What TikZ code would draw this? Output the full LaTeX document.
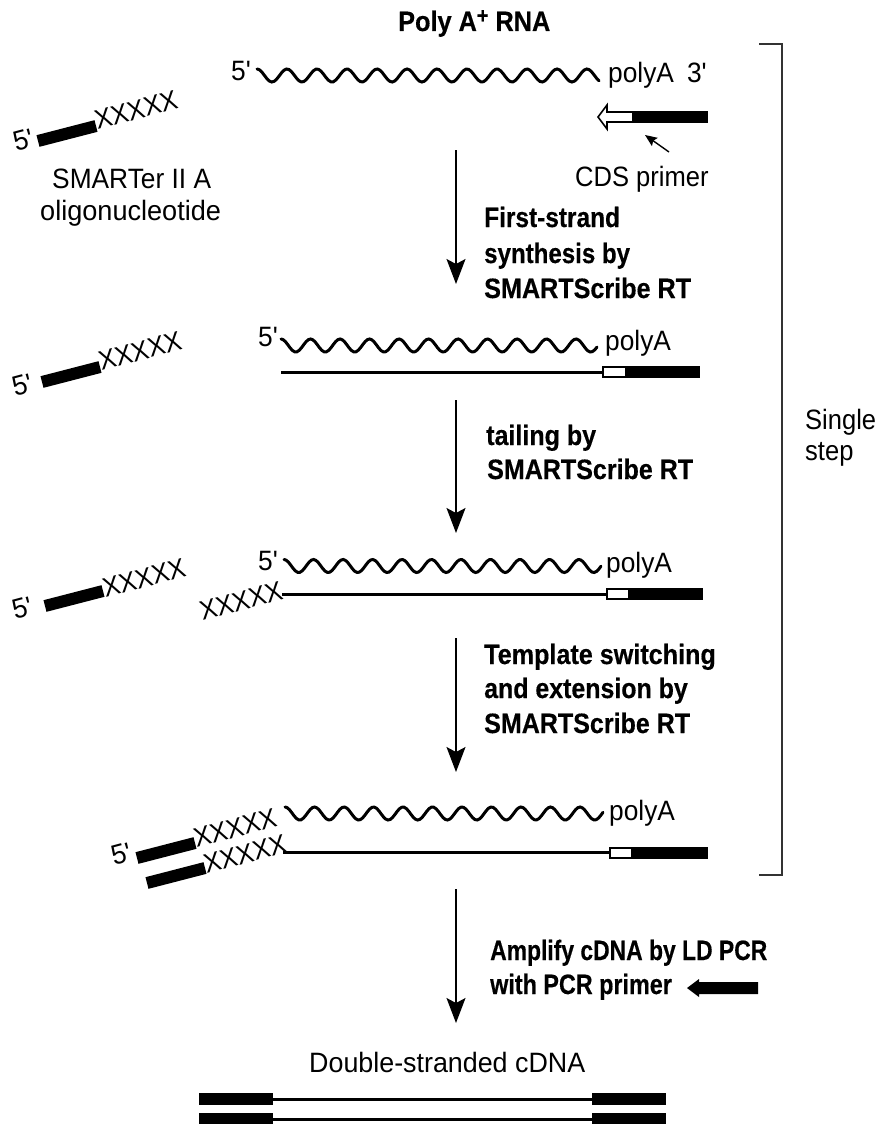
\documentclass[tikz,border=0pt]{standalone}
\usepackage{fontspec}
\setmainfont{Liberation Sans}
\newfontfamily\reg[FakeStretch=0.94]{Liberation Sans}
\newfontfamily\bld[FakeStretch=0.86,FakeBold=0.4]{Liberation Sans Bold}
\usetikzlibrary{arrows.meta}
\newcommand{\wavy}[5]{%
  \draw[wave] plot[domain=0:#4,samples=140,smooth] ({#2+\x},{#3-6.5*cos((360/#5)*\x)});
  \coordinate (#1) at (#2,#3);}
\newcommand{\oligo}[7]{%
  \coordinate (#1a) at (#2,#3);
  \coordinate (#1b) at (#4,#5);
  \draw[thickbar] (#1a) -- (#1b);
  \node[xtxt] (#1x) at (#6,#7) {XXXXX};}
\newcommand{\sx}[2]{\scalebox{#1}[1]{#2}}
\tikzset{
  x=1pt,y=-1pt,
  lab/.style={anchor=base west,inner sep=0pt,font=\reg\fontsize{28}{30}\selectfont},
  bold/.style={anchor=base west,inner sep=0pt,font=\bld\fontsize{28}{30}\selectfont},
  prime/.style={lab,rotate=15},
  xtxt/.style={inner sep=0pt,rotate=15,font=\reg\fontsize{27}{30}\selectfont},
  wave/.style={line width=3pt,line cap=round,black},
  thickbar/.style={line width=12pt,black},
  cdna/.style={line width=3pt,black},
  flow/.style={line width=1.4pt,black,-{Stealth[length=25pt,width=19pt,inset=5pt]}},
  whitebox/.style={draw=black,fill=white,line width=1.6pt},
  bracket/.style={line width=1.6pt,draw=black!80},
}
\begin{document}
\begin{tikzpicture}
\useasboundingbox (0,0) rectangle (880,1124);
% title
\node[bold] (title) at (398,31) {\sx{1.05}{Poly A\raisebox{8pt}{\fontsize{22}{22}\selectfont +} RNA}};
% row 1
\node[lab] (r1five) at (231,81) {5'};
\wavy{r1w}{257}{75.5}{342}{30}
\node[lab] (r1poly) at (608,82) {polyA\hspace{13pt}3'};
\draw[whitebox] (633,112) -- (607,112) -- (607,105) -- (598,117) -- (607,129) -- (607,122) -- (633,122) -- cycle;
\fill[black] (633,111) rectangle (708,123);
\node[lab] (cds) at (575,186) {\sx{.97}{CDS primer}};
\coordinate (cdsa) at (669,152);
\coordinate (cdsb) at (645,135);
\draw[line width=1.4pt,-{Stealth[length=12pt,width=10pt,inset=2pt]}] (cdsa) -- (cdsb);
% left oligo row 1
\node[prime] (o1five) at (16,152) {5'};
\oligo{o1}{38}{141}{96}{126}{136}{110}
\node[lab] (smart) at (52,188) {SMARTer II A};
\node[lab] (oligo) at (40,220) {\sx{1.03}{oligonucleotide}};
% step 1
\coordinate (a1s) at (456,150);
\coordinate (a1e) at (456,284);
\draw[flow] (a1s) -- (a1e);
\node[bold] (t1a) at (484,227) {\sx{1.015}{First-strand}};
\node[bold] (t1b) at (484,263) {synthesis by};
\node[bold] (t1c) at (484,298) {\sx{1.045}{SMARTScribe RT}};
% row 2
\node[prime] (o2five) at (15,397) {5'};
\oligo{o2}{42}{382}{100}{367}{140}{351}
\node[lab] (r2five) at (258,346) {5'};
\wavy{r2w}{281}{345.5}{316}{29.5}
\node[lab] (r2poly) at (605,350) {polyA};
\coordinate (l2a) at (281,372);
\coordinate (l2b) at (603,372);
\draw[cdna] (l2a) -- (l2b);
\draw[whitebox] (603,367) rectangle (626,377);
\fill[black] (626,366) rectangle (700,378);
% step 2
\coordinate (a2s) at (456,400);
\coordinate (a2e) at (456,533);
\draw[flow] (a2s) -- (a2e);
\node[bold] (t2a) at (486,445) {\sx{1.04}{tailing by}};
\node[bold] (t2b) at (487,479) {\sx{1.04}{SMARTScribe RT}};
% row 3
\node[prime] (o3five) at (15,620) {5'};
\oligo{o3}{45}{606}{103}{591}{144}{578}
\node[lab] (r3five) at (258,570) {5'};
\wavy{r3w}{284}{566}{317}{29.5}
\node[lab] (r3poly) at (606,572) {polyA};
\node[xtxt] (r3x) at (241,601) {XXXXX};
\coordinate (l3a) at (282,594);
\coordinate (l3b) at (607,594);
\draw[cdna] (l3a) -- (l3b);
\draw[whitebox] (607,589) rectangle (629,599);
\fill[black] (628,588) rectangle (703,600);
% step 3
\coordinate (a3s) at (456,638);
\coordinate (a3e) at (456,772);
\draw[flow] (a3s) -- (a3e);
\node[bold] (t3a) at (484,664) {\sx{1.045}{Template switching}};
\node[bold] (t3b) at (484,698) {\sx{1.035}{and extension by}};
\node[bold] (t3c) at (484,733) {\sx{1.04}{SMARTScribe RT}};
% row 4
\node[prime] (o4five) at (114,866) {5'};
\oligo{o4}{137}{858}{195}{843}{235}{828}
\oligo{o5}{147}{883}{205}{868}{245}{854}
\wavy{r4w}{285}{813.5}{318}{29.5}
\node[lab] (r4poly) at (609,820) {polyA};
\coordinate (l4a) at (283,852.5);
\coordinate (l4b) at (610,852.5);
\draw[cdna] (l4a) -- (l4b);
\draw[whitebox] (610,848) rectangle (632,858);
\fill[black] (632,847) rectangle (708,859);
% bracket
\coordinate (b1) at (759,44);
\coordinate (b2) at (782,44);
\coordinate (b3) at (782,875);
\coordinate (b4) at (759,875);
\draw[bracket] (b1) -- (b2) -- (b3) -- (b4);
\node[lab] (single) at (805,429) {\sx{.97}{Single}};
\node[lab] (stepw) at (805,460) {\sx{.97}{step}};
% step 4
\coordinate (a4s) at (456,889);
\coordinate (a4e) at (456,1023);
\draw[flow] (a4s) -- (a4e);
\node[bold] (t4a) at (490,960) {\sx{.95}{Amplify cDNA by LD PCR}};
\node[bold] (t4b) at (490,994) {\sx{.97}{with PCR primer}};
\fill[black] (758,982) -- (699,982) -- (699,979) -- (687,988) -- (699,997) -- (699,994) -- (758,994) -- cycle;
% product
\node[lab] (ds) at (309,1072) {\sx{1.02}{Double-stranded cDNA}};
\fill[black] (199,1093) rectangle (273,1105);
\fill[black] (592,1093) rectangle (666,1105);
\fill[black] (199,1113) rectangle (273,1124);
\fill[black] (592,1113) rectangle (666,1124);
\coordinate (d1a) at (273,1099);
\coordinate (d1b) at (592,1099);
\coordinate (d2a) at (273,1119);
\coordinate (d2b) at (592,1119);
\draw[cdna] (d1a) -- (d1b);
\draw[cdna] (d2a) -- (d2b);
\end{tikzpicture}
\end{document}
